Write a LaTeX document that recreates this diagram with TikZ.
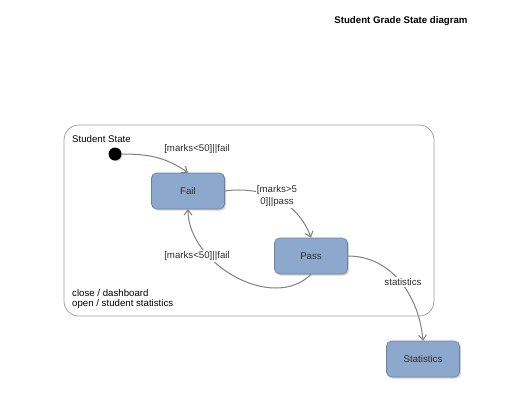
\documentclass[tikz,border=0pt]{standalone}
\usepackage{fontspec}
\setmainfont{Liberation Sans}
\usetikzlibrary{arrows.meta,shadows}
\definecolor{statefill}{RGB}{141,168,205}
\definecolor{stateline}{RGB}{105,128,162}
\definecolor{edgegray}{RGB}{128,128,128}
\definecolor{framegray}{RGB}{160,160,160}
\definecolor{textgray}{RGB}{45,45,45}
\begin{document}
\begin{tikzpicture}[x=1bp,y=1bp,font=\fontsize{9.7}{11.5}\selectfont]
		\tikzset{state/.style = {draw=stateline, fill=statefill, rounded corners=5bp, minimum width=73bp, minimum height=36bp, text=textgray, line width=0.6bp, drop shadow={shadow xshift=1.5bp, shadow yshift=-1.5bp, opacity=0.35}}}
		\tikzset{edge/.style = {-{Straight Barb[length=5bp,width=8bp]}, draw=edgegray, line width=1bp}}
		\tikzset{guard/.style = {fill=white, inner sep=1.5bp, text=textgray, align=center}}
		\tikzset{plain/.style = {inner sep=0bp, anchor=west}}
		
		\useasboundingbox (0,0) rectangle (520,412);
		
		\node[font=\fontsize{9.7}{11.5}\selectfont\bfseries] (title) at (401,391) {Student Grade State diagram};
		
		\draw[framegray, line width=0.8bp, rounded corners=15bp] (64,96) rectangle (434,287);
		\node[plain] (region) at ( 72,273) {Student State};
		\node[plain] (close)  at ( 72,119) {close / dashboard};
		\node[plain] (open)   at ( 72,108) {open / student statistics};
		
		\node[circle, fill=black, minimum size=13bp, inner sep=0bp, drop shadow={shadow xshift=1bp, shadow yshift=-1bp, opacity=0.3}] (init) at (115,258) {};
		\node[state] (fail)  at (188,221) {Fail};
		\node[state] (pass)  at (311,156) {Pass};
		\node[state] (stats) at (423, 53) {Statistics};
		
		\draw[edge] (init) to[out=0,in=145] (fail.north);
		\draw[edge] (fail.east) to[out=8,in=110] (pass.north);
		\draw[edge] (pass.south) to[out=-135,in=-90] (fail.south);
		\draw[edge] (pass.east) to[out=0,in=95] (stats.north);
		
		\node[guard] (g1) at (197,263) {[marks<50]||fail};
		\node[guard] (g2) at (277,216) {[marks>5\\0]||pass};
		\node[guard] (g3) at (197,156) {[marks<50]||fail};
		\node[guard] (g4) at (403,130) {statistics};
\end{tikzpicture}
\end{document}
